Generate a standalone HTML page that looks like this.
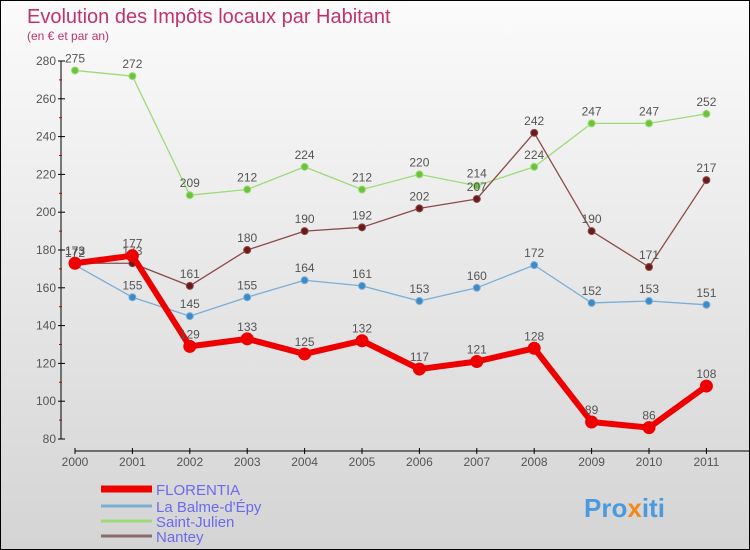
<!DOCTYPE html>
<html><head><meta charset="utf-8"><style>
body{margin:0}
#c{position:relative;width:748px;height:548px;border:1px solid #000;background:linear-gradient(#fbfbfb,#d4d4d4);font-family:"Liberation Sans",sans-serif;overflow:hidden}
svg text{font-family:"Liberation Sans",sans-serif}
</style></head><body>
<div id="c">
<svg id="s" width="748" height="548">
<text x="26" y="22" font-size="20" fill="#c0336b">Evolution des Impôts locaux par Habitant</text>
<text x="26" y="39" font-size="12" fill="#c0336b">(en € et par an)</text>
<g id="axes"></g><g id="series"></g><g id="legend"></g>
<text x="583" y="516" font-size="26" font-weight="bold"><tspan fill="#4a9ae0">Pro</tspan><tspan fill="#f08a1c">x</tspan><tspan fill="#4a9ae0">iti</tspan></text>
</svg></div>
<script>
const years=[2000,2001,2002,2003,2004,2005,2006,2007,2008,2009,2010,2011];
const yTicks=[80,100,120,140,160,180,200,220,240,260,280];
const florentia=[173,177,129,133,125,132,117,121,128,89,86,108];
const balme=[172,155,145,155,164,161,153,160,172,152,153,151];
const stjulien=[275,272,209,212,224,212,220,214,224,247,247,252];
const nantey=[173,173,161,180,190,192,202,207,242,190,171,217];
const NS="http://www.w3.org/2000/svg";
const X=i=>74+i*57.4, Y=v=>438-(v-80)*1.89;
function mk(t,a,p){const e=document.createElementNS(NS,t);for(const k in a)e.setAttribute(k,a[k]);(p||document.getElementById('axes')).appendChild(e);return e;}
let l=mk('line',{x1:60,x2:60,y1:Y(280),y2:Y(80),stroke:'#000'});


yTicks.forEach(v=>{mk('line',{x1:57,x2:64,y1:Y(v),y2:Y(v),stroke:'#000'});
if(v<280)mk('line',{x1:58,x2:61,y1:Y(v+10),y2:Y(v+10),stroke:'#c00'});
const t=mk('text',{x:55,y:Y(v)+4,'font-size':12,fill:'#555','text-anchor':'end'});t.textContent=v;

});
l=mk('line',{x1:74,x2:748,y1:450,y2:450,stroke:'#000'});


years.forEach((y,i)=>{mk('line',{x1:X(i),x2:X(i),y1:447,y2:453,stroke:'#000'});
const t=mk('text',{x:X(i),y:465,'font-size':12,fill:'#555','text-anchor':'middle'});t.textContent=y;

});
const S=document.getElementById('series');
function draw(d,col,dot,w,r,name){
const g=mk('g',{},S);


mk('polyline',{points:d.map((v,i)=>X(i)+','+Y(v)).join(' '),fill:'none',stroke:col,'stroke-width':w,'stroke-linejoin':'round'},g);
d.forEach((v,i)=>{const c=mk('circle',{cx:X(i),cy:Y(v),r:r,fill:dot,stroke:col,'stroke-width':1},g);


const t=mk('text',{x:X(i),y:Y(v)-8,'font-size':12,fill:'#555','text-anchor':'middle'},g);t.textContent=v;

});}
draw(stjulien,'#9ddb7a','#6cc33a',1.3,3.5,'saint-julien');
draw(nantey,'#8b4a4a','#6b1a1a',1.3,3.5,'nantey');
draw(balme,'#7aaed6','#3d8ac6',1.3,3.5,'la-balme');
draw(florentia,'#ee0000','#ee0000',6,6,'florentia');
const L=document.getElementById('legend');
[['FLORENTIA','#ee0000',7,491],['La Balme-d\'Épy','#7aaed6',3,508],['Saint-Julien','#9ddb7a',3,523],['Nantey','#8b6a6a',3,538]].forEach(e=>{
const g=mk('g',{},L);


mk('line',{x1:100,x2:151,y1:e[3]-3,y2:e[3]-3,stroke:e[1],'stroke-width':e[2]},g);
const t=mk('text',{x:155,y:e[3]+3,'font-size':15,fill:'#6a6aee'},g);t.textContent=e[0];});
</script></body></html>
